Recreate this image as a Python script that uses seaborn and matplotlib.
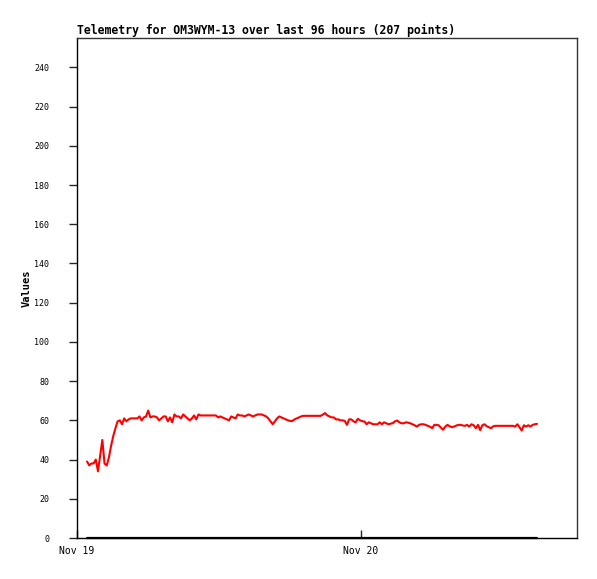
import seaborn as sns
import matplotlib.pyplot as plt
import matplotlib.dates as mdates
import pandas as pd

# Telemetry samples (207 points)
values = [
    39, 37, 38, 38, 40, 34, 42, 50, 38, 37,
    41, 47, 52, 56, 59.5, 60, 58, 61, 59.5, 60.5,
    61, 61, 61, 61, 62, 60, 61.5, 62, 65, 61.5,
    62, 62, 61.5, 60, 61, 62, 62, 59.5, 61.5, 59,
    63, 62, 62, 61, 63, 62, 61, 60, 61, 62.5,
    60.5, 63, 62.5, 62.5, 62.5, 62.5, 62.5, 62.5, 62.5, 62.5,
    61.5, 62, 61.5, 61, 60.5, 60, 62, 61.5, 61, 63,
    62.5, 62.5, 62, 62.5, 63, 62.5, 62, 62.5, 63, 63,
    63, 62.5, 62, 61, 59.5, 58, 59.5, 61, 62, 61.5,
    61, 60.5, 60, 59.7, 59.7, 60.5, 61, 61.5, 62, 62.3,
    62.3, 62.3, 62.3, 62.3, 62.3, 62.3, 62.3, 62.3, 63, 63.7,
    62.5, 62, 61.5, 61.5, 60.5, 60.5, 60, 60, 59.7, 57.7,
    60.5, 60.5, 59.5, 59, 60.8, 60, 59.6, 59.4, 58, 59,
    58.5, 58, 58, 58, 59, 58, 59, 58.5, 58, 58.3,
    58.6, 59.5, 59.9, 59, 58.5, 58.5, 59, 58.8, 58.5, 58,
    57.5, 56.8, 57.7, 58, 58, 57.7, 57.2, 56.8, 56, 57.7,
    57.7, 57.5, 56.3, 55.2, 56.8, 57.7, 57, 56.5, 56.8, 57.3,
    57.7, 57.7, 57.4, 57.2, 57.7, 56.8, 58, 57.5, 56, 57.7,
    55, 57.5, 58, 57, 56.5, 56, 57, 57.2, 57.2, 57.2,
    57.2, 57.2, 57.2, 57.2, 57.2, 57.2, 56.8, 58, 56.5, 54.8,
    57.5, 56.8, 57.5, 56.8, 57.7, 58, 58.2,
]
# second channel stays at zero for the whole window
zeros = [0] * len(values)

start = pd.Timestamp("2024-11-19 00:51")
end = pd.Timestamp("2024-11-20 14:53")
times = pd.date_range(start, end, periods=len(values))

df = pd.concat([
    pd.DataFrame({"time": times, "value": values, "channel": "ch1"}),
    pd.DataFrame({"time": times, "value": zeros, "channel": "ch2"}),
])

sns.set_style("white")
plt.rcParams["font.family"] = ["DejaVu Sans Mono"]

fig = plt.figure(figsize=(5.97, 5.79), dpi=100)
ax = fig.add_axes([77 / 597, 41 / 579, 500 / 597, 500 / 579])

sns.lineplot(data=df[df.channel == "ch1"], x="time", y="value", color="#ff0000",
             linewidth=1.5, ax=ax, legend=False)
sns.lineplot(data=df[df.channel == "ch2"], x="time", y="value", color="black",
             linewidth=1.6, ax=ax, legend=False, clip_on=False)

ax.set_xlim(pd.Timestamp("2024-11-19 00:00"), pd.Timestamp("2024-11-20 18:16"))
ax.set_ylim(0, 255)
ax.set_yticks(range(0, 241, 20))
ax.xaxis.set_major_locator(mdates.DayLocator())
ax.xaxis.set_major_formatter(mdates.DateFormatter("%b %d"))

ax.tick_params(axis="y", direction="out", length=6, width=1, labelsize=6, pad=14,
               left=True, labelcolor="black")
ax.tick_params(axis="x", direction="in", length=6, width=1, labelsize=7, pad=6,
               bottom=True, labelcolor="black")

for side in ["left", "bottom"]:
    ax.spines[side].set_color("black")
    ax.spines[side].set_linewidth(1)
for side in ["top", "right"]:
    ax.spines[side].set_color("#333333")
    ax.spines[side].set_linewidth(1)

ax.set_xlabel("")
ax.set_ylabel("Values", fontsize=7.5, fontweight="bold", color="black")
ax.yaxis.set_label_coords(-0.09, 0.5)
ax.set_title("Telemetry for OM3WYM-13 over last 96 hours (207 points)",
             loc="left", fontsize=8.3, fontweight="bold", pad=3, color="black")

fig.savefig("out.png", dpi=100)
